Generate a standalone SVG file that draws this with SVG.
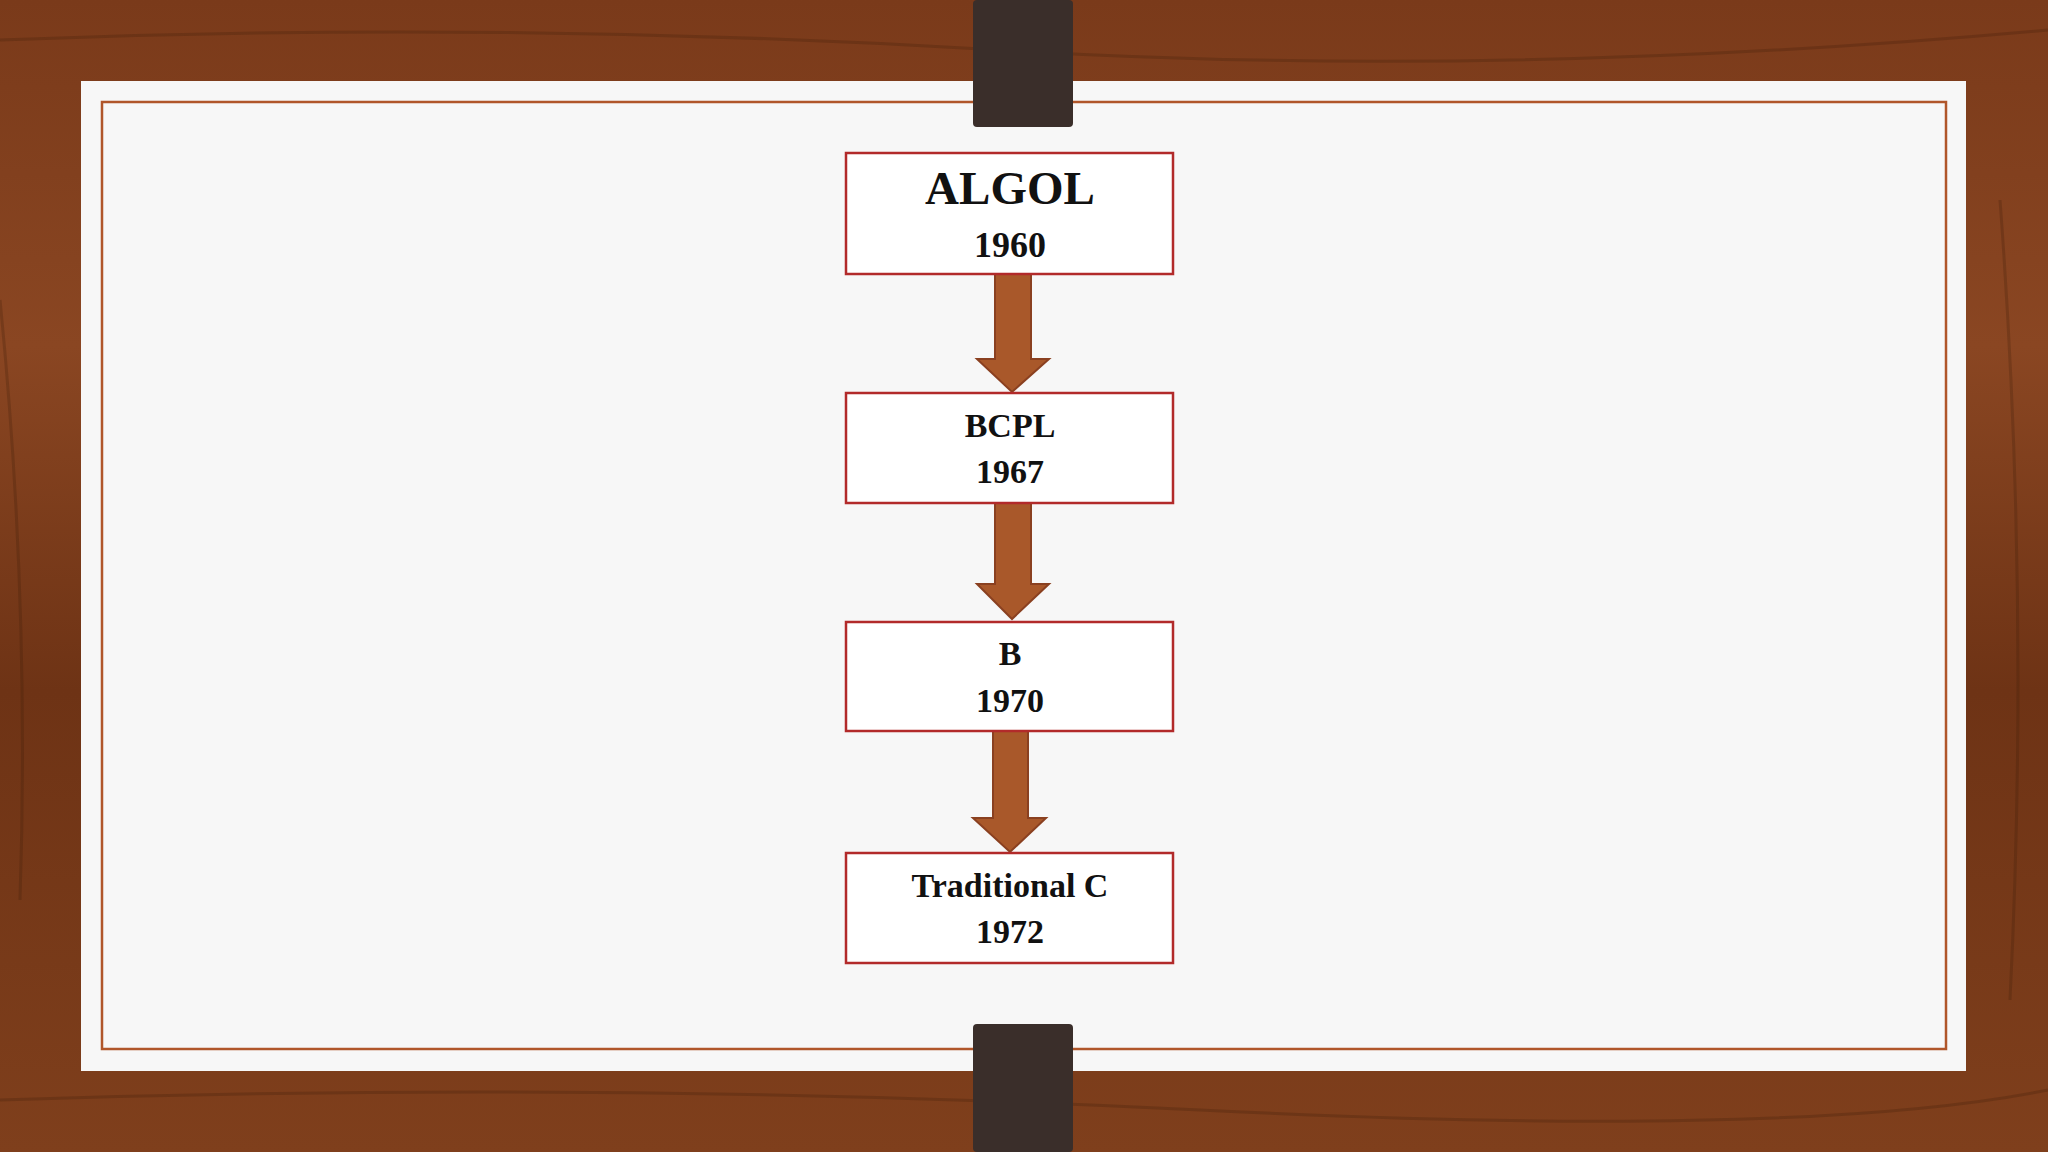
<svg xmlns="http://www.w3.org/2000/svg" width="2048" height="1152" viewBox="0 0 2048 1152">
<defs>
<linearGradient id="wood" x1="0" y1="0" x2="0" y2="1">
<stop offset="0" stop-color="#7a3a1a"/><stop offset="0.3" stop-color="#8a4622"/><stop offset="0.6" stop-color="#6e3315"/><stop offset="1" stop-color="#7f3f1c"/>
</linearGradient>
<style>
.box{fill:#fff;stroke:#b22a2a;stroke-width:2.5}
.t{font-family:"Liberation Serif",serif;font-weight:bold;fill:#111;text-anchor:middle}
.arr{fill:#a9582a;stroke:#8a4020;stroke-width:2}
.strap{fill:#3a2e2a}
</style>
</defs>
<rect width="2048" height="1152" fill="url(#wood)"/>
<g opacity="0.25" stroke="#3d1a08" stroke-width="3" fill="none">
<path d="M0 40 Q500 20 1000 50 T2048 30"/><path d="M0 1100 Q600 1080 1200 1110 T2048 1090"/>
<path d="M0 300 Q30 600 20 900"/><path d="M2000 200 Q2030 600 2010 1000"/>
</g>
<rect x="81" y="81" width="1885" height="990" fill="#f7f7f7"/>
<rect x="102" y="102" width="1844" height="947" fill="none" stroke="#b0562a" stroke-width="2.5"/>
<rect class="strap" x="973" y="0" width="100" height="127" rx="4"/>
<rect class="strap" x="973" y="1024" width="100" height="128" rx="4"/>
<g id="connectors">
<polygon class="arr" points="995,274 1031,274 1031,359 1049,359 1012,392 977,359 995,359"/>
<polygon class="arr" points="995,500 1031,500 1031,584 1049,584 1012,619 977,584 995,584"/>
<polygon class="arr" points="993,731 1028,731 1028,818 1046,818 1010,852 973,818 993,818"/>
</g>
<g id="algol"><rect class="box" x="846" y="153" width="327" height="121"/>
<text class="t" x="1010" y="204" font-size="47">ALGOL</text><text class="t" x="1010" y="257" font-size="36">1960</text></g>
<g id="bcpl"><rect class="box" x="846" y="393" width="327" height="110"/>
<text class="t" x="1010" y="437" font-size="34">BCPL</text><text class="t" x="1010" y="483" font-size="34">1967</text></g>
<g id="b"><rect class="box" x="846" y="622" width="327" height="109"/>
<text class="t" x="1010" y="665" font-size="34">B</text><text class="t" x="1010" y="712" font-size="34">1970</text></g>
<g id="tradc"><rect class="box" x="846" y="853" width="327" height="110"/>
<text class="t" x="1010" y="897" font-size="34">Traditional C</text><text class="t" x="1010" y="943" font-size="34">1972</text></g>
</svg>
